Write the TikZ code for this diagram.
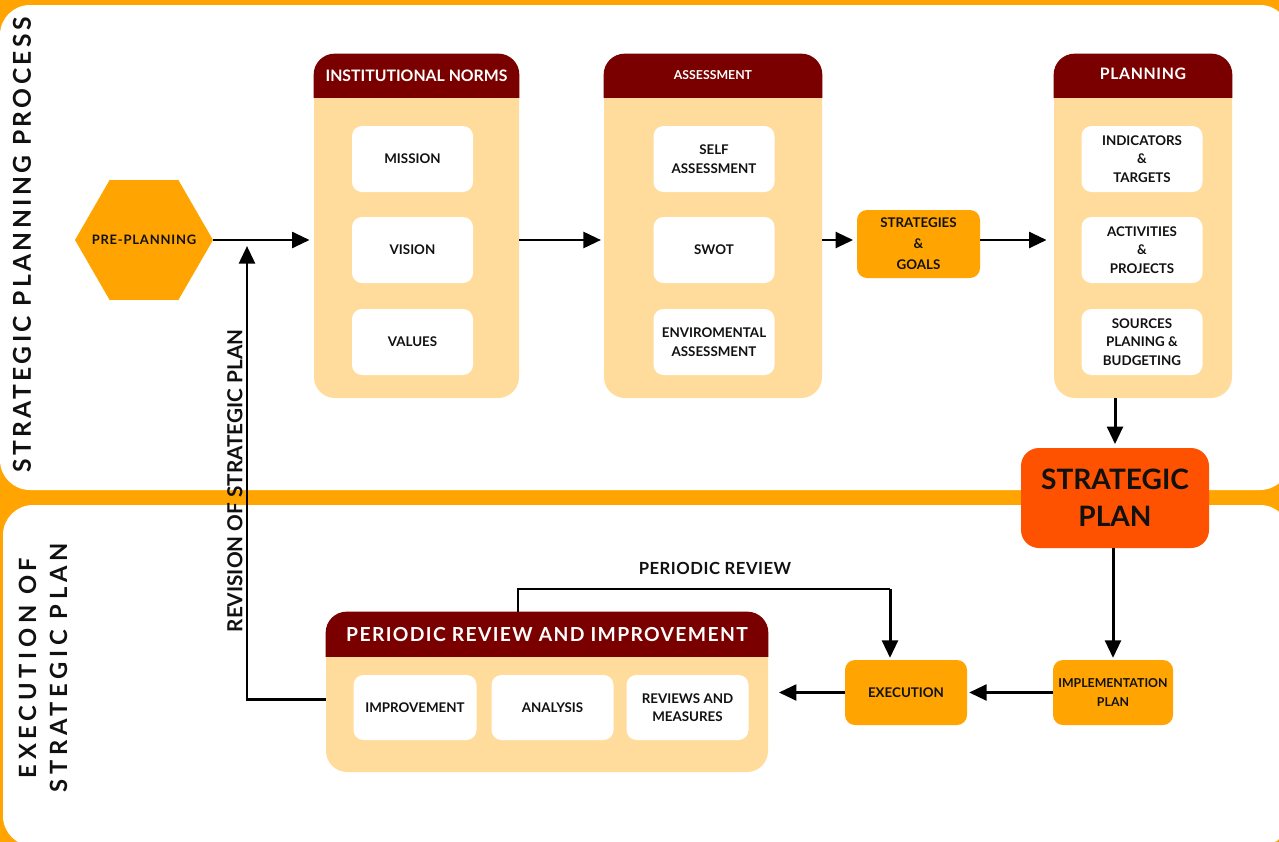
\documentclass[tikz,border=0pt]{standalone}
\usepackage{fontspec}
\setmainfont{Lato}
\usetikzlibrary{arrows.meta,shapes.geometric,calc}
\definecolor{frameorange}{RGB}{255,164,0}
\definecolor{boxorange}{RGB}{255,164,0}
\definecolor{lightbody}{RGB}{255,220,155}
\definecolor{darkhead}{RGB}{122,0,0}
\definecolor{planred}{RGB}{255,82,0}
\definecolor{ink}{RGB}{17,17,17}
\newcommand\grphead[3]{%
  \begin{scope}
    \clip (#1.north west) rectangle ($(#1.north east)+(0,#2)$);
    \fill[darkhead, rounded corners=0.42cm] (#1.north west) rectangle (#1.south east);
  \end{scope}}
\begin{document}
\begin{tikzpicture}[x=0.02cm,y=-0.02cm,
  grp/.style={fill=lightbody, rounded corners=0.42cm, inner sep=0pt},
  wbox/.style={fill=white, rounded corners=0.2cm, inner sep=0pt, align=center,
    minimum width=121*0.02cm, minimum height=66*0.02cm, text=ink,
    font=\fontsize{7.6}{10.5}\selectfont\bfseries},
  obox/.style={fill=boxorange, rounded corners=0.2cm, inner sep=0pt, align=center,
    minimum width=122*0.02cm, minimum height=65*0.02cm, text=ink,
    font=\fontsize{7.6}{10.5}\selectfont\bfseries},
  headtxt/.style={text=white, inner sep=0pt, font=\bfseries},
  arr/.style={line width=1.7pt, draw=black, -{Triangle[length=10pt,width=9pt]}},
  link/.style={line width=1.7pt, draw=black},
  side/.style={rotate=90, inner sep=0pt, text=ink, align=center},
]
\useasboundingbox (0,0) rectangle (1279,842);
% background frame and panels
\fill[frameorange] (0,0) rectangle (1279,842);
\fill[white, rounded corners=0.6cm] (0,5) rectangle (1290,490);
\fill[white, rounded corners=0.6cm] (3,505) rectangle (1290,846);

% side titles
\node[side, font=\fontsize{14}{17}\selectfont\addfontfeatures{LetterSpace=14}\bfseries] (sidetop) at (22,245) {STRATEGIC PLANNING PROCESS};
\node[side, font=\fontsize{13.5}{17.6}\selectfont\addfontfeatures{LetterSpace=20}\bfseries] (sidebot) at (43,668) {EXECUTION OF\\STRATEGIC PLAN};

% pre-planning
\node[regular polygon, regular polygon sides=6, minimum size=138*0.02cm, inner sep=0pt, fill=boxorange] (pre) at (144,240) {};
\node[inner sep=0pt, text=ink, font=\fontsize{7.4}{9}\selectfont\addfontfeatures{LetterSpace=6}\bfseries] (pretxt) at (pre.center) {PRE-PLANNING};

% institutional norms
\node[grp, minimum width=205*0.02cm, minimum height=344*0.02cm] (norms) at (416.5,226) {};
\grphead{norms}{44}{}
\node[headtxt, font=\fontsize{9}{10}\selectfont\bfseries] (normsh) at ($(norms.north)+(0,22)$) {INSTITUTIONAL NORMS};
\node[wbox] (mission) at (412.5,159) {MISSION};
\node[wbox] (vision) at (412.5,250) {VISION};
\node[wbox] (values) at (412.5,342) {VALUES};

% assessment
\node[grp, minimum width=218*0.02cm, minimum height=344*0.02cm] (assess) at (713,226) {};
\grphead{assess}{44}{}
\node[headtxt, font=\fontsize{7}{8}\selectfont\bfseries] (assessh) at ($(assess.north)+(0,21)$) {ASSESSMENT};
\node[wbox] (self) at (714,159) {SELF\\ASSESSMENT};
\node[wbox] (swot) at (714,250) {SWOT};
\node[wbox] (env) at (714,342) {ENVIROMENTAL\\ASSESSMENT};

% strategies & goals
\node[obox, minimum width=123*0.02cm, minimum height=68*0.02cm, font=\fontsize{7.6}{12}\selectfont\bfseries] (strat) at (918.5,244) {STRATEGIES\\\&\\GOALS};

% planning
\node[grp, minimum width=178*0.02cm, minimum height=344*0.02cm] (plan) at (1143,226) {};
\grphead{plan}{44}{}
\node[headtxt, font=\fontsize{9}{10}\selectfont\addfontfeatures{LetterSpace=4}\bfseries] (planh) at ($(plan.north)+(0,20)$) {PLANNING};
\node[wbox] (ind) at (1142,159) {INDICATORS\\\&\\TARGETS};
\node[wbox] (act) at (1142,250) {ACTIVITIES\\\&\\PROJECTS};
\node[wbox] (src) at (1142,342) {SOURCES\\PLANING \&\\BUDGETING};

% strategic plan
\node[fill=planred, rounded corners=0.36cm, inner sep=0pt, align=center, text=ink,
  minimum width=188*0.02cm, minimum height=100*0.02cm,
  font=\fontsize{16}{21}\selectfont\bfseries] (sp) at (1115,498) {STRATEGIC\\PLAN};

% implementation & execution
\node[obox, minimum width=120*0.02cm, font=\fontsize{7}{10.5}\selectfont\bfseries] (impl) at (1113,692.5) {IMPLEMENTATION\\PLAN};
\node[obox] (exec) at (906,692.5) {EXECUTION};

% periodic review group
\node[grp, minimum width=442*0.02cm, minimum height=160*0.02cm] (review) at (547,692) {};
\grphead{review}{45}{}
\node[headtxt, font=\fontsize{11}{12}\selectfont\addfontfeatures{LetterSpace=7}\bfseries] (reviewh) at ($(review.north)+(0,23)$) {PERIODIC REVIEW AND IMPROVEMENT};
\node[wbox, minimum width=123*0.02cm, minimum height=65*0.02cm] (impr) at (415,707.5) {IMPROVEMENT};
\node[wbox, minimum width=122*0.02cm, minimum height=65*0.02cm] (anal) at (552.5,707.5) {ANALYSIS};
\node[wbox, minimum width=122*0.02cm, minimum height=65*0.02cm] (revm) at (687.5,707.5) {REVIEWS AND\\MEASURES};

% connectors, top row
\draw[arr, shorten >=2.3pt] (pre.east) -- (pre.east -| norms.west);
\draw[arr, shorten >=1.5pt] (norms.east |- pre.east) -- (assess.west |- pre.east);
\draw[arr, shorten >=2pt] (assess.east |- pre.east) -- (strat.west |- pre.east);
\draw[arr, shorten >=4pt] (strat.east |- pre.east) -- (plan.west |- pre.east);
\draw[arr, shorten >=2pt] (sp.north |- plan.south) -- (sp.north);
\draw[arr, shorten >=1pt] (sp.south -| impl.north) -- (impl.north);
\draw[arr, shorten >=1pt] (impl.west) -- (exec.east);
\draw[arr, shorten >=6pt] (exec.west) -- (review.east |- exec.west);

% periodic review loop
\coordinate (prA) at (518,589);
\coordinate (prB) at (890,589);
\draw[link] (prA |- review.north) -- (prA) -- (prB);
\draw[arr, shorten >=1pt] (prB) -- (prB |- exec.north);
\node[inner sep=0pt, text=ink, font=\fontsize{9.5}{11}\selectfont\addfontfeatures{LetterSpace=3}\bfseries] (prlabel) at (715,568) {PERIODIC REVIEW};

% revision loop
\coordinate (revbot) at ($(review.west)!0.5!(review.west |- impr)$);
\coordinate (revtop) at (247,246);
\draw[arr] (revbot) -| (revtop);
\node[side, font=\fontsize{11.8}{13}\selectfont\bfseries] (revlabel) at (235,481) {REVISION OF STRATEGIC PLAN};
\end{tikzpicture}
\end{document}
